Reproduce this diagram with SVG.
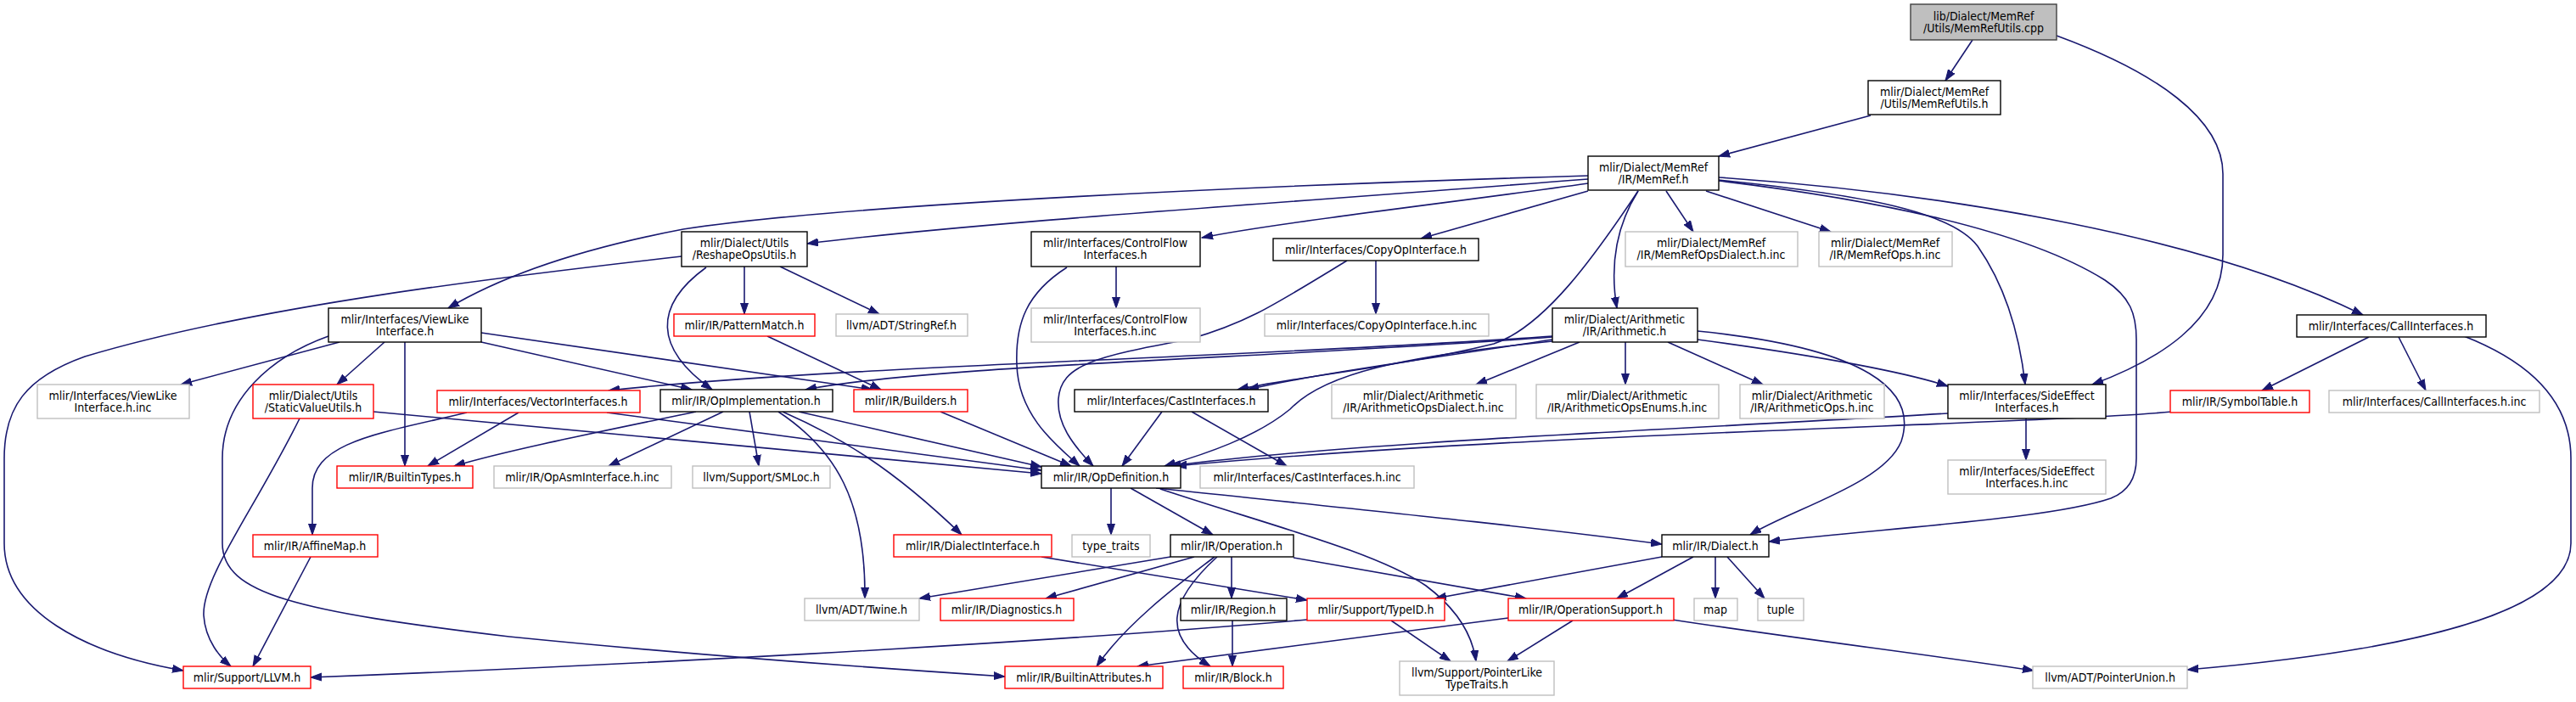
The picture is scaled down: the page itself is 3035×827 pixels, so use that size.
<svg xmlns="http://www.w3.org/2000/svg" width="3035" height="827" viewBox="0 0 3035 827">
<style>
rect{fill:#fff;stroke:#000;stroke-width:1.4}
.g rect{stroke:#bfbfbf}
.r rect{stroke:#ff0000}
.root rect{fill:#bfbfbf;stroke:#404040}
text{font-family:"DejaVu Sans Condensed","DejaVu Sans",sans-serif;font-stretch:condensed;font-size:14px;text-anchor:middle;fill:#000}
#edges path{fill:none;stroke:#191970;stroke-width:1.6;marker-end:url(#a)}
</style>
<defs>
<marker id="a" markerUnits="userSpaceOnUse" markerWidth="14" markerHeight="10" refX="13" refY="5" orient="auto"><path d="M0,0.5 L13,5 L0,9.5 z" fill="#191970" stroke="#191970" stroke-width="1"/></marker>
</defs>
<rect x="0" y="0" width="3035" height="827" style="fill:#fff;stroke:none"/>
<g id="edges">
<path d="M2324,47 L2292,95"/>
<path d="M2423,42 C2540,85 2619,140 2619,205 L2619,300 C2619,380 2540,425 2465,453"/>
<path d="M2204,136 L2025,184"/>
<path d="M1871,207 C1500,218 1000,240 805,270 C700,290 600,320 528,363"/>
<path d="M1871,211 C1500,240 1150,262 951,287"/>
<path d="M1871,216 C1700,240 1500,263 1416,280"/>
<path d="M1871,225 L1674,281"/>
<path d="M1930,225 C1905,265 1896,310 1905,363"/>
<path d="M1930,225 C1880,300 1820,385 1760,405 C1650,432 1520,445 1458,459"/>
<path d="M1963,225 L1995,273"/>
<path d="M2010,225 L2157,273"/>
<path d="M2025,212 C2200,230 2300,250 2330,290 C2365,340 2380,400 2386,453"/>
<path d="M2025,213 C2250,240 2400,280 2480,330 C2510,350 2517,370 2517,400 L2517,540 C2517,565 2505,580 2487,587 C2420,610 2250,620 2084,638"/>
<path d="M2025,209 C2300,228 2600,280 2784,371"/>
<path d="M877,314 L877,370"/>
<path d="M919,314 L1036,370"/>
<path d="M832,315 C770,360 770,410 839,459"/>
<path d="M803,302 C600,325 300,360 100,420 C30,445 5,480 5,540 L5,640 C5,720 100,770 216,790"/>
<path d="M1315,314 L1315,363"/>
<path d="M1257,315 C1210,345 1196,380 1198,430 C1200,490 1245,525 1272,549"/>
<path d="M1621,307 L1621,370"/>
<path d="M1587,307 C1500,360 1470,380 1400,400 C1290,420 1250,430 1247,470 C1245,500 1265,525 1288,549"/>
<path d="M1829,396 C1500,420 1000,430 717,460"/>
<path d="M1829,397 C1500,422 1100,430 949,459"/>
<path d="M1829,400 C1700,420 1550,440 1470,459"/>
<path d="M1829,402 C1650,420 1560,440 1520,482 C1480,515 1420,535 1372,549"/>
<path d="M1861,403 L1739,453"/>
<path d="M1915,403 L1915,453"/>
<path d="M1965,403 L2077,453"/>
<path d="M2000,400 C2150,420 2250,440 2295,455"/>
<path d="M2000,390 C2200,410 2260,460 2240,520 C2220,570 2110,600 2062,630"/>
<path d="M2791,397 L2665,460"/>
<path d="M2826,397 L2858,460"/>
<path d="M2903,396 C2990,430 3029,480 3029,540 L3029,640 C3029,730 2800,770 2577,789"/>
<path d="M2387,493 L2387,542"/>
<path d="M2295,487 C2000,505 1600,520 1378,549"/>
<path d="M2559,485 C2400,500 1800,510 1385,549"/>
<path d="M400,403 L213,453"/>
<path d="M453,403 L397,453"/>
<path d="M477,403 L477,549"/>
<path d="M567,392 L1028,459"/>
<path d="M567,403 L815,459"/>
<path d="M387,396 C320,420 262,470 262,540 L262,640 C262,700 350,720 600,750 C800,770 1000,785 1184,797"/>
<path d="M904,396 L1038,459"/>
<path d="M440,485 L1227,558"/>
<path d="M353,493 C300,600 238,680 240,725 C242,755 260,775 272,785"/>
<path d="M611,486 L504,549"/>
<path d="M550,486 C450,510 368,520 368,575 L368,630"/>
<path d="M715,486 L1227,554"/>
<path d="M820,485 C700,510 600,530 535,549"/>
<path d="M852,485 L717,549"/>
<path d="M883,485 L894,549"/>
<path d="M941,485 L1227,550"/>
<path d="M917,485 C985,530 1020,590 1019,705"/>
<path d="M922,485 C990,515 1050,550 1133,630"/>
<path d="M1108,485 L1262,549"/>
<path d="M1369,485 L1322,549"/>
<path d="M1404,485 L1516,549"/>
<path d="M1309,575 L1309,630"/>
<path d="M1332,575 L1429,630"/>
<path d="M1362,575 C1600,600 1800,620 1958,641"/>
<path d="M1367,576 C1500,620 1620,650 1680,690 C1720,720 1735,750 1739,779"/>
<path d="M366,656 L298,785"/>
<path d="M1227,656 L1540,707"/>
<path d="M1379,656 L1083,705"/>
<path d="M1407,656 L1232,705"/>
<path d="M1451,656 L1451,705"/>
<path d="M1431,656 C1400,680 1330,730 1292,785"/>
<path d="M1434,656 C1375,710 1370,750 1426,785"/>
<path d="M1524,657 L1798,705"/>
<path d="M1452,731 L1452,785"/>
<path d="M1958,656 L1691,705"/>
<path d="M1995,656 L1905,705"/>
<path d="M2021,656 L2021,705"/>
<path d="M2035,656 L2079,705"/>
<path d="M1540,730 C1200,760 700,785 366,798"/>
<path d="M1639,731 L1709,779"/>
<path d="M1777,728 C1600,750 1450,770 1340,785"/>
<path d="M1853,731 L1776,779"/>
<path d="M1970,730 C2100,750 2300,775 2396,790"/>
</g>
<g id="n0" class="root"><rect x="2251" y="5" width="172" height="42"/><text x="2337" y="24">lib/Dialect/MemRef</text><text x="2337" y="38">/Utils/MemRefUtils.cpp</text></g>
<g id="n1"><rect x="2201" y="95" width="156" height="40"/><text x="2279" y="113">mlir/Dialect/MemRef</text><text x="2279" y="127">/Utils/MemRefUtils.h</text></g>
<g id="n2"><rect x="1871" y="184" width="154" height="40"/><text x="1948" y="202">mlir/Dialect/MemRef</text><text x="1948" y="216">/IR/MemRef.h</text></g>
<g id="n3"><rect x="803" y="273" width="148" height="41"/><text x="877" y="291">mlir/Dialect/Utils</text><text x="877" y="305">/ReshapeOpsUtils.h</text></g>
<g id="n4"><rect x="1215" y="273" width="199" height="41"/><text x="1314" y="291">mlir/Interfaces/ControlFlow</text><text x="1314" y="305">Interfaces.h</text></g>
<g id="n5"><rect x="1500" y="281" width="242" height="26"/><text x="1621" y="299">mlir/Interfaces/CopyOpInterface.h</text></g>
<g id="n6" class="g"><rect x="1915" y="273" width="203" height="41"/><text x="2016" y="291">mlir/Dialect/MemRef</text><text x="2016" y="305">/IR/MemRefOpsDialect.h.inc</text></g>
<g id="n7" class="g"><rect x="2143" y="273" width="157" height="41"/><text x="2221" y="291">mlir/Dialect/MemRef</text><text x="2221" y="305">/IR/MemRefOps.h.inc</text></g>
<g id="n8"><rect x="2706" y="371" width="223" height="26"/><text x="2817" y="389">mlir/Interfaces/CallInterfaces.h</text></g>
<g id="n9"><rect x="387" y="363" width="180" height="40"/><text x="477" y="381">mlir/Interfaces/ViewLike</text><text x="477" y="395">Interface.h</text></g>
<g id="n10" class="r"><rect x="794" y="370" width="166" height="26"/><text x="877" y="388">mlir/IR/PatternMatch.h</text></g>
<g id="n11" class="g"><rect x="985" y="370" width="155" height="26"/><text x="1062" y="388">llvm/ADT/StringRef.h</text></g>
<g id="n12" class="g"><rect x="1215" y="363" width="199" height="40"/><text x="1314" y="381">mlir/Interfaces/ControlFlow</text><text x="1314" y="395">Interfaces.h.inc</text></g>
<g id="n13" class="g"><rect x="1490" y="370" width="264" height="26"/><text x="1622" y="388">mlir/Interfaces/CopyOpInterface.h.inc</text></g>
<g id="n14"><rect x="1829" y="363" width="171" height="40"/><text x="1914" y="381">mlir/Dialect/Arithmetic</text><text x="1914" y="395">/IR/Arithmetic.h</text></g>
<g id="n15" class="g"><rect x="44" y="453" width="179" height="40"/><text x="133" y="471">mlir/Interfaces/ViewLike</text><text x="133" y="485">Interface.h.inc</text></g>
<g id="n16" class="r"><rect x="298" y="453" width="142" height="40"/><text x="369" y="471">mlir/Dialect/Utils</text><text x="369" y="485">/StaticValueUtils.h</text></g>
<g id="n17" class="r"><rect x="515" y="460" width="239" height="26"/><text x="634" y="478">mlir/Interfaces/VectorInterfaces.h</text></g>
<g id="n18"><rect x="778" y="459" width="203" height="26"/><text x="879" y="477">mlir/IR/OpImplementation.h</text></g>
<g id="n19" class="r"><rect x="1006" y="459" width="134" height="26"/><text x="1073" y="477">mlir/IR/Builders.h</text></g>
<g id="n20"><rect x="1266" y="459" width="228" height="26"/><text x="1380" y="477">mlir/Interfaces/CastInterfaces.h</text></g>
<g id="n21" class="g"><rect x="1569" y="453" width="217" height="40"/><text x="1677" y="471">mlir/Dialect/Arithmetic</text><text x="1677" y="485">/IR/ArithmeticOpsDialect.h.inc</text></g>
<g id="n22" class="g"><rect x="1810" y="453" width="215" height="40"/><text x="1917" y="471">mlir/Dialect/Arithmetic</text><text x="1917" y="485">/IR/ArithmeticOpsEnums.h.inc</text></g>
<g id="n23" class="g"><rect x="2050" y="453" width="170" height="40"/><text x="2135" y="471">mlir/Dialect/Arithmetic</text><text x="2135" y="485">/IR/ArithmeticOps.h.inc</text></g>
<g id="n24"><rect x="2295" y="453" width="186" height="40"/><text x="2388" y="471">mlir/Interfaces/SideEffect</text><text x="2388" y="485">Interfaces.h</text></g>
<g id="n25" class="r"><rect x="2557" y="460" width="164" height="26"/><text x="2639" y="478">mlir/IR/SymbolTable.h</text></g>
<g id="n26" class="g"><rect x="2744" y="460" width="248" height="26"/><text x="2868" y="478">mlir/Interfaces/CallInterfaces.h.inc</text></g>
<g id="n27" class="r"><rect x="397" y="549" width="160" height="26"/><text x="477" y="567">mlir/IR/BuiltinTypes.h</text></g>
<g id="n28" class="g"><rect x="582" y="549" width="209" height="26"/><text x="686" y="567">mlir/IR/OpAsmInterface.h.inc</text></g>
<g id="n29" class="g"><rect x="816" y="549" width="162" height="26"/><text x="897" y="567">llvm/Support/SMLoc.h</text></g>
<g id="n30"><rect x="1227" y="549" width="164" height="26"/><text x="1309" y="567">mlir/IR/OpDefinition.h</text></g>
<g id="n31" class="g"><rect x="1414" y="549" width="252" height="26"/><text x="1540" y="567">mlir/Interfaces/CastInterfaces.h.inc</text></g>
<g id="n32" class="g"><rect x="2295" y="542" width="186" height="40"/><text x="2388" y="560">mlir/Interfaces/SideEffect</text><text x="2388" y="574">Interfaces.h.inc</text></g>
<g id="n33" class="r"><rect x="298" y="630" width="147" height="26"/><text x="371" y="648">mlir/IR/AffineMap.h</text></g>
<g id="n34" class="r"><rect x="1053" y="630" width="186" height="26"/><text x="1146" y="648">mlir/IR/DialectInterface.h</text></g>
<g id="n35" class="g"><rect x="1263" y="630" width="92" height="26"/><text x="1309" y="648">type_traits</text></g>
<g id="n36"><rect x="1379" y="630" width="145" height="26"/><text x="1451" y="648">mlir/IR/Operation.h</text></g>
<g id="n37"><rect x="1958" y="630" width="126" height="26"/><text x="2021" y="648">mlir/IR/Dialect.h</text></g>
<g id="n38" class="g"><rect x="948" y="705" width="135" height="26"/><text x="1015" y="723">llvm/ADT/Twine.h</text></g>
<g id="n39" class="r"><rect x="1108" y="705" width="157" height="26"/><text x="1186" y="723">mlir/IR/Diagnostics.h</text></g>
<g id="n40"><rect x="1391" y="705" width="125" height="26"/><text x="1453" y="723">mlir/IR/Region.h</text></g>
<g id="n41" class="r"><rect x="1540" y="705" width="162" height="26"/><text x="1621" y="723">mlir/Support/TypeID.h</text></g>
<g id="n42" class="r"><rect x="1777" y="705" width="195" height="26"/><text x="1874" y="723">mlir/IR/OperationSupport.h</text></g>
<g id="n43" class="g"><rect x="1996" y="705" width="51" height="26"/><text x="2021" y="723">map</text></g>
<g id="n44" class="g"><rect x="2071" y="705" width="54" height="26"/><text x="2098" y="723">tuple</text></g>
<g id="n45" class="r"><rect x="216" y="785" width="150" height="26"/><text x="291" y="803">mlir/Support/LLVM.h</text></g>
<g id="n46" class="r"><rect x="1184" y="785" width="186" height="26"/><text x="1277" y="803">mlir/IR/BuiltinAttributes.h</text></g>
<g id="n47" class="r"><rect x="1394" y="785" width="118" height="26"/><text x="1453" y="803">mlir/IR/Block.h</text></g>
<g id="n48" class="g"><rect x="1649" y="779" width="182" height="40"/><text x="1740" y="797">llvm/Support/PointerLike</text><text x="1740" y="811">TypeTraits.h</text></g>
<g id="n49" class="g"><rect x="2395" y="785" width="182" height="26"/><text x="2486" y="803">llvm/ADT/PointerUnion.h</text></g>
</svg>
